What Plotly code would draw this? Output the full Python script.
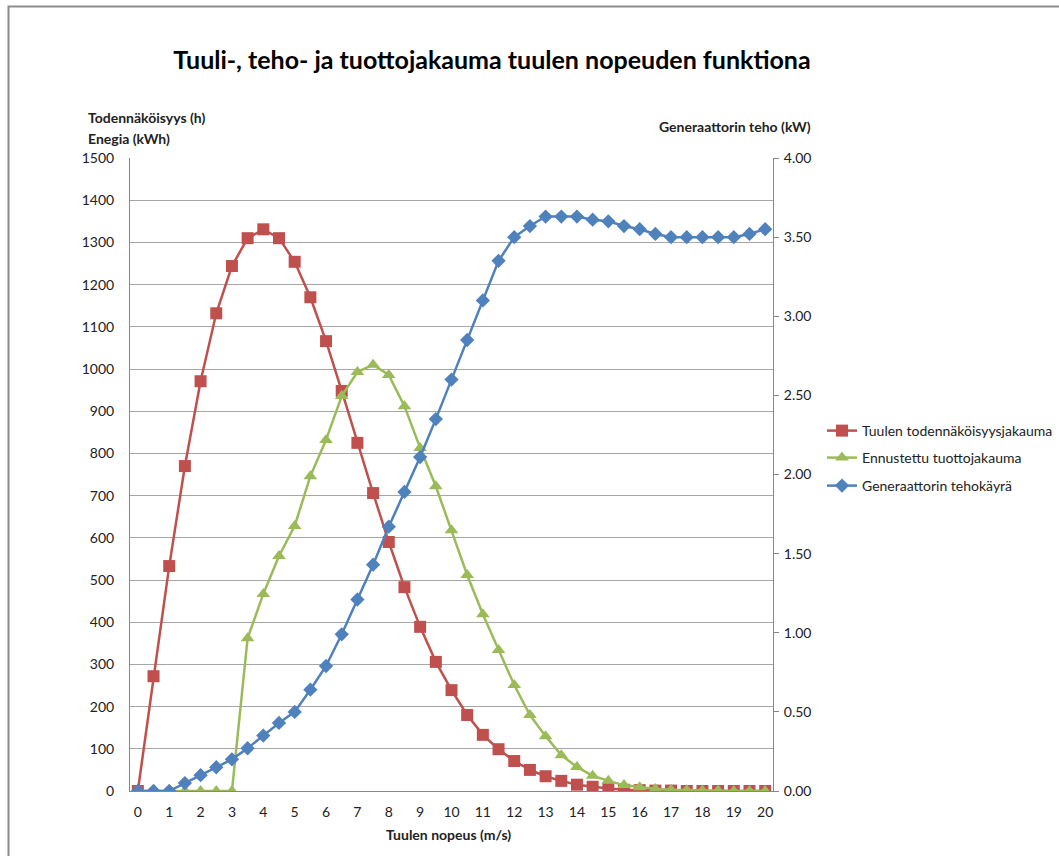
import plotly.graph_objects as go

wind_speed = [i * 0.5 for i in range(41)]
tick_labels = [str(i) for i in range(21)]

wind_prob = [0, 272, 533, 770, 971, 1132, 1244, 1310, 1331, 1310, 1254, 1170, 1066, 948, 825, 706,
             590, 483, 389, 306, 239, 180, 133, 99, 71, 50, 35, 24, 15, 10, 6, 3, 2, 1, 1, 0, 0, 0, 0, 0, 0]
energy_yield = [0, 0, 0, 0, 0, 0, 0, 362, 467, 557, 628, 746, 832, 936, 993, 1010,
                986, 912, 813, 722, 618, 512, 419, 334, 251, 180, 130, 85, 57, 36, 24, 14, 9, 5, 3, 2, 1, 1, 0, 0, 0]
power_curve = [0, 0, 0, 0.05, 0.10, 0.15, 0.20, 0.27, 0.35, 0.43, 0.50, 0.64, 0.79, 0.99, 1.21, 1.43,
               1.67, 1.89, 2.11, 2.35, 2.60, 2.85, 3.10, 3.35, 3.50, 3.57, 3.63, 3.63, 3.63, 3.61, 3.60,
               3.57, 3.55, 3.52, 3.50, 3.50, 3.50, 3.50, 3.50, 3.52, 3.55]

names = ["Tuulen todennäköisyysjakauma", "Ennustettu tuottojakauma", "Generaattorin tehokäyrä"]
colors = ["#C0504D", "#9BBB59", "#4F81BD"]

FONT = "Lato, 'Open Sans', sans-serif"
W, H = 1059, 856
# target plot area in page pixels (body margin removed via post_script)
PX0, PX1, PY0, PY1 = 130, 773, 158, 791
L, T, R, B = PX0, PY0, W - PX1, H - PY1
pw = PX1 - PX0
ph = PY1 - PY0


def px(xpage):
    return (xpage - PX0) / pw


def py(ypage):
    return (PY1 - ypage) / ph


fig = go.Figure()
fig.add_trace(go.Scatter(x=wind_speed, y=wind_prob, name=names[0], mode="lines+markers", legend="legend",
                         line=dict(color=colors[0], width=2.5),
                         marker=dict(symbol="square", size=12, color=colors[0])))
fig.add_trace(go.Scatter(x=wind_speed, y=energy_yield, name=names[1], mode="lines+markers", legend="legend2",
                         line=dict(color=colors[1], width=2.5),
                         marker=dict(symbol="triangle-up", size=12, color=colors[1])))
fig.add_trace(go.Scatter(x=wind_speed, y=power_curve, name=names[2], mode="lines+markers", yaxis="y2",
                         legend="legend3",
                         line=dict(color=colors[2], width=2.5),
                         marker=dict(symbol="diamond", size=11, color=colors[2])))

leg_common = dict(xanchor="left", yanchor="middle", font=dict(size=14, color="#222222", family=FONT),
                  itemwidth=30, bgcolor="rgba(0,0,0,0)")

fig.update_layout(
    width=W, height=H,
    margin=dict(l=L, r=R, t=T, b=B, autoexpand=False),
    paper_bgcolor="white", plot_bgcolor="white",
    font=dict(family=FONT, size=14, color="#222222"),
    showlegend=True,
    legend=dict(x=px(822), y=py(431), **leg_common),
    legend2=dict(x=px(822), y=py(458), **leg_common),
    legend3=dict(x=px(822), y=py(486), **leg_common),
    xaxis=dict(range=[-0.25, 20.25], tickmode="array", tickvals=list(range(21)), ticktext=tick_labels,
               showgrid=False, zeroline=False, showline=True, linecolor="#868686", linewidth=1,
               ticks="", ticklabelstandoff=8, tickfont=dict(size=14, color="#222222"), fixedrange=True,
               automargin=False),
    yaxis=dict(range=[0, 1500], dtick=100, showgrid=True, gridcolor="#A6A6A6", gridwidth=1,
               zeroline=False, showline=True, linecolor="#868686", linewidth=1, ticks="",
               ticklabelstandoff=12, tickfont=dict(size=14, color="#222222"), automargin=False),
    yaxis2=dict(range=[0, 4], dtick=0.5, tickformat=".2f", overlaying="y", side="right",
                showgrid=False, zeroline=False, showline=True, linecolor="#868686", linewidth=1,
                ticks="outside", ticklen=5, tickcolor="#868686", ticklabelstandoff=2,
                tickfont=dict(size=14, color="#222222"), automargin=False),
    title=dict(text="<b>Tuuli-, teho- ja tuottojakauma tuulen nopeuden funktiona</b>",
               x=492 / W, xref="container", xanchor="center", y=1 - 60 / H,
               yref="container", yanchor="middle", font=dict(size=25, color="#000000", family=FONT)),
)

ann_font = dict(size=14, color="#222222", family=FONT)
fig.add_annotation(text="<b>Todennäköisyys (h)</b>", xref="paper", yref="paper",
                   x=px(86), y=py(117), xanchor="left", yanchor="middle", showarrow=False, font=ann_font)
fig.add_annotation(text="<b>Enegia (kWh)</b>", xref="paper", yref="paper",
                   x=px(86), y=py(138), xanchor="left", yanchor="middle", showarrow=False, font=ann_font)
fig.add_annotation(text="<b>Generaattorin teho (kW)</b>", xref="paper", yref="paper",
                   x=px(813), y=py(126), xanchor="right", yanchor="middle", showarrow=False, font=ann_font)
fig.add_annotation(text="<b>Tuulen nopeus (m/s)</b>", xref="paper", yref="paper",
                   x=px(448), y=py(835), xanchor="center", yanchor="middle", showarrow=False, font=ann_font)

# outer chart-area border
fig.add_shape(type="rect", xref="paper", yref="paper",
              x0=px(8.5), x1=px(1075), y0=py(875), y1=py(6.5),
              line=dict(color="#8C8C8C", width=2), fillcolor="rgba(0,0,0,0)", layer="below")

fig.write_html("out.html", config={"displayModeBar": False},
               post_script="document.body.style.margin='0';document.body.style.overflow='hidden';")
